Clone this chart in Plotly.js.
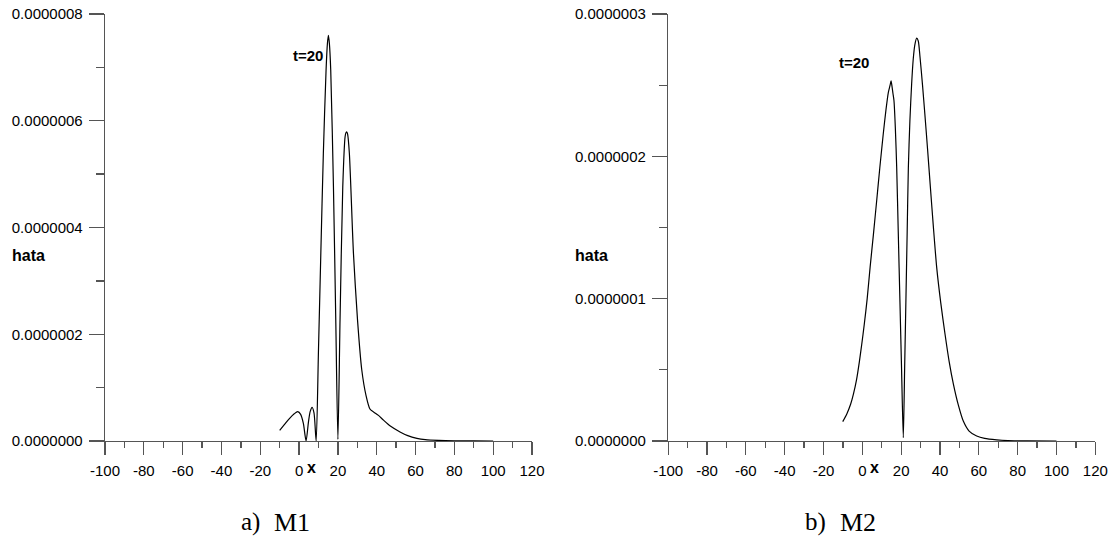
<!DOCTYPE html>
<html>
<head>
<meta charset="utf-8">
<script src="https://cdn.plot.ly/plotly-3.0.1.min.js"></script>
<style>html,body{margin:0;padding:0;background:#fff;}#chart{width:1115px;height:550px;}</style>
</head>
<body>
<div id="chart"></div>
<script>
// ---- data ----
const xTicks = [-100, -80, -60, -40, -20, 0, 20, 40, 60, 80, 100, 120];
const m1X = [-10, -7.5, -5, -2.5, -0.7, 0.8, 2.2, 3.6, 4.8, 5.7, 6.7, 7.7, 8.8, 9.95, 11.2, 12.5, 13.9, 14.6, 15.1, 15.6, 16.3, 17.7, 18.9, 20.0, 21.1, 22.5, 23.7, 24.2, 24.6, 25.0, 25.9, 28.0, 30.1, 32.3, 34.5, 36.5, 38.5, 40.9, 43.5, 47, 52, 56, 60.7, 65, 72, 80, 90, 100];
const m1Y = [0.20e-7, 0.31e-7, 0.42e-7, 0.51e-7, 0.55e-7, 0.50e-7, 0.33e-7, 0.0, 0.35e-7, 0.55e-7, 0.63e-7, 0.52e-7, 0.0, 1.64e-7, 3.52e-7, 5.39e-7, 6.95e-7, 7.45e-7, 7.60e-7, 7.45e-7, 6.95e-7, 4.76e-7, 2.27e-7, 0.03e-7, 2.27e-7, 4.76e-7, 5.70e-7, 5.78e-7, 5.79e-7, 5.75e-7, 5.39e-7, 3.52e-7, 2.27e-7, 1.33e-7, 0.85e-7, 0.60e-7, 0.54e-7, 0.48e-7, 0.39e-7, 0.28e-7, 0.17e-7, 0.10e-7, 0.05e-7, 0.025e-7, 0.01e-7, 0.003e-7, 0.001e-7, 0.0];
const m2X = [-10.1, -8, -6, -4.6, -3, -1.5, -0.3, 1, 2.5, 4, 5.7, 7.4, 9, 10.8, 12.2, 13.4, 14.3, 14.8, 15.3, 15.8, 16.3, 17.0, 17.7, 18.5, 19.4, 20.2, 21.1, 21.8, 22.5, 23.1, 23.7, 24.5, 25.4, 26.2, 27.0, 28.0, 28.8, 29.7, 31, 32.3, 33.6, 34.9, 36.5, 38.3, 40.4, 42.6, 44.7, 46.9, 49.5, 52.0, 55, 58.9, 63, 69.2, 75, 85, 100];
const m2Y = [0.136e-7, 0.19e-7, 0.26e-7, 0.329e-7, 0.43e-7, 0.56e-7, 0.68e-7, 0.82e-7, 1.00e-7, 1.22e-7, 1.45e-7, 1.69e-7, 1.92e-7, 2.16e-7, 2.33e-7, 2.45e-7, 2.50e-7, 2.53e-7, 2.49e-7, 2.44e-7, 2.39e-7, 2.20e-7, 1.92e-7, 1.47e-7, 0.96e-7, 0.51e-7, 0.023e-7, 0.52e-7, 1.03e-7, 1.47e-7, 1.92e-7, 2.25e-7, 2.51e-7, 2.68e-7, 2.78e-7, 2.83e-7, 2.81e-7, 2.70e-7, 2.50e-7, 2.28e-7, 2.05e-7, 1.81e-7, 1.52e-7, 1.22e-7, 0.97e-7, 0.75e-7, 0.56e-7, 0.40e-7, 0.25e-7, 0.14e-7, 0.07e-7, 0.035e-7, 0.018e-7, 0.008e-7, 0.003e-7, 0.001e-7, 0.0];
const yLabel = "hata";
const xLabel = "x";
const timeLabel = "t=20";
const capLetters = ["a)", "b)"];
const capNames = ["M1", "M2"];

// ---- layout helpers ----
const W = 1115, H = 550;
const px = v => v / W;
const py = v => 1 - v / H;
const sans = "Liberation Sans, Arial, sans-serif";
const serif = "Liberation Serif, serif";
const axisCol = "#555";

function xAx(domain) {
  return {
    domain: domain, range: [-100, 120], tickvals: xTicks, ticktext: xTicks.map(String),
    showline: true, linecolor: axisCol, linewidth: 1.3,
    ticks: "outside", ticklen: 13, tickcolor: axisCol, tickwidth: 1.3, ticklabelstandoff: 3,
    minor: {dtick: 10, tick0: 0, ticks: "outside", ticklen: 6, tickcolor: axisCol, tickwidth: 1.3},
    showgrid: false, zeroline: false, fixedrange: true,
    tickfont: {family: sans, size: 15, color: "#000"}
  };
}
function yAx(domain, max, dtick, minorDtick, anchor) {
  return {
    domain: domain, range: [0, max], dtick: dtick, tick0: 0, tickformat: ".7f",
    showline: true, linecolor: axisCol, linewidth: 1.3, anchor: anchor,
    ticks: "outside", ticklen: 15, tickcolor: axisCol, tickwidth: 1.3, ticklabelstandoff: 3,
    minor: {dtick: minorDtick, tick0: 0, ticks: "outside", ticklen: 8, tickcolor: axisCol, tickwidth: 1.3},
    showgrid: false, zeroline: false, fixedrange: true,
    tickfont: {family: sans, size: 15, color: "#000"}
  };
}

const yDom = [py(441), py(14)];
const lineStyle = {color: "#000", width: 1.2, shape: "spline", smoothing: 0.7};
const traces = [
  {x: m1X, y: m1Y, xaxis: "x", yaxis: "y", mode: "lines", line: lineStyle, hoverinfo: "skip"},
  {x: m2X, y: m2Y, xaxis: "x2", yaxis: "y2", mode: "lines", line: lineStyle, hoverinfo: "skip"}
];

function ann(text, x, y, size, bold, family) {
  return {text: bold ? "<b>" + text + "</b>" : text, x: px(x), y: py(y), xref: "paper", yref: "paper",
    xanchor: "center", yanchor: "middle", showarrow: false,
    font: {family: family || sans, size: size, color: "#000"}};
}

const layout = {
  width: W, height: H, margin: {l: 0, r: 0, t: 0, b: 0},
  paper_bgcolor: "#fff", plot_bgcolor: "#fff", showlegend: false,
  xaxis: Object.assign(xAx([px(105), px(532)]), {anchor: "y"}),
  yaxis: yAx(yDom, 8e-7, 2e-7, 1e-7, "x"),
  xaxis2: Object.assign(xAx([px(668.2), px(1095.3)]), {anchor: "y2"}),
  yaxis2: yAx(yDom, 3e-7, 1e-7, 0.5e-7, "x2"),
  annotations: [
    ann(yLabel, 28, 255, 16, true),
    ann(yLabel, 591, 255, 16, true),
    ann(timeLabel, 308, 56, 15, true),
    ann(timeLabel, 854, 63, 15, true),
    ann(xLabel, 311, 467, 16, true),
    ann(xLabel, 874, 467, 16, true),
    ann(capLetters[0], 250, 522, 25, false, serif),
    ann(capNames[0], 292, 522, 26, false, serif),
    ann(capLetters[1], 815, 522, 25, false, serif),
    ann(capNames[1], 857.5, 522, 26, false, serif)
  ]
};

Plotly.newPlot("chart", traces, layout, {staticPlot: true, displayModeBar: false});
</script>
</body>
</html>
